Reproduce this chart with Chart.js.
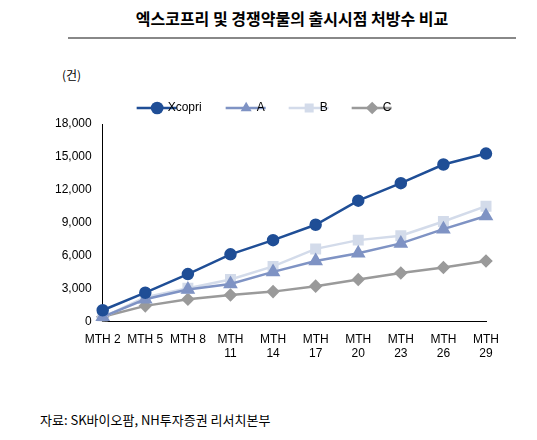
<!DOCTYPE html>
<html><head><meta charset="utf-8">
<script src="https://cdn.jsdelivr.net/npm/chart.js@4"></script>
<style>
body{margin:0;width:537px;height:440px;background:#fff;font-family:"Noto Sans CJK KR",sans-serif;position:relative}
#title{position:absolute;left:68px;top:6px;width:448px;text-align:center;font-size:16px;font-weight:bold;padding-bottom:7px;border-bottom:2px solid #888;color:#000}
#src{position:absolute;left:40px;top:410px;font-size:13px;color:#000}
#unit{position:absolute;left:62px;top:66px;font-size:12px;color:#000}
#wrap{position:absolute;left:52px;top:62px;width:450px;height:302px}
</style></head><body>
<div id="title">엑스코프리 및 경쟁약물의 출시시점 처방수 비교</div>
<div id="unit">(건)</div>
<div id="wrap"><canvas id="c"></canvas></div>
<div id="src">자료: SK바이오팜, NH투자증권 리서치본부</div>
<script>
const labels = ["MTH 2", "MTH 5", "MTH 8", ["MTH", "11"], ["MTH", "14"], ["MTH", "17"], ["MTH", "20"], ["MTH", "23"], ["MTH", "26"], ["MTH", "29"]];
const xcopri = [1000, 2600, 4300, 6100, 7400, 8800, 11000, 12600, 14300, 15300];
const seriesA = [400, 2000, 2900, 3400, 4500, 5500, 6200, 7100, 8400, 9600];
const seriesB = [350, 2200, 3000, 3800, 5000, 6600, 7400, 7800, 9100, 10500];
const seriesC = [400, 1400, 2000, 2400, 2700, 3200, 3800, 4400, 4900, 5500];

function ds(label, data, color, style, r) {
	return {label, data, borderColor: color, backgroundColor: color, pointStyle: style,
		pointRadius: r, pointHoverRadius: r, borderWidth: 2.5, tension: 0};
}
new Chart(document.getElementById("c"), {
	type: "line",
	data: {
		labels: labels,
		datasets: [
			ds("Xcopri", xcopri, "#1f4e96", "circle", 5),
			ds("A", seriesA, "#7f93c4", "triangle", 6),
			ds("B", seriesB, "#d3dbea", "rect", 6),
			ds("C", seriesC, "#9a9a9a", "rectRot", 5)
		]
	},
	options: {
		responsive: true, maintainAspectRatio: false, animation: false,
		layout: {padding: {left: 0, right: 10, top: 0}},
		scales: {
			x: {
				grid: {display: false},
				border: {color: "#000"},
				ticks: {color: "#000", font: {size: 12, family: "Liberation Sans"}, maxRotation: 0, autoSkip: false}
			},
			y: {
				min: 0, max: 18000,
				grid: {display: false},
				border: {color: "#000"},
				ticks: {stepSize: 3000, color: "#000", font: {size: 12, family: "Liberation Sans"},
					callback: v => v.toLocaleString("en-US")}
			}
		},
		plugins: {
			legend: {
				labels: {usePointStyle: true, boxWidth: 9, boxHeight: 9, padding: 40, color: "#000",
					font: {size: 12, family: "Liberation Sans"},
					generateLabels: chart => chart.data.datasets.map((d, i) => ({
						text: d.label, fillStyle: d.backgroundColor, strokeStyle: d.borderColor,
						pointStyle: d.pointStyle, lineWidth: 0, datasetIndex: i, fontColor: "#000"
					}))}
			},
			tooltip: {enabled: false}
		}
	},
	plugins: [{
		id: "legendLines",
		beforeDraw(chart) {
			const ctx = chart.ctx;
			chart.legend.legendItems.forEach((it, i) => {
				const box = chart.legend.legendHitBoxes[i];
				const y = box.top + box.height / 2;
				ctx.save();
				ctx.strokeStyle = chart.data.datasets[i].borderColor;
				ctx.lineWidth = 2.5;
				ctx.beginPath();
				ctx.moveTo(box.left - 16, y);
				ctx.lineTo(box.left + 24, y);
				ctx.stroke();
				ctx.restore();
			});
		}
	}]
});
</script>
</body></html>
